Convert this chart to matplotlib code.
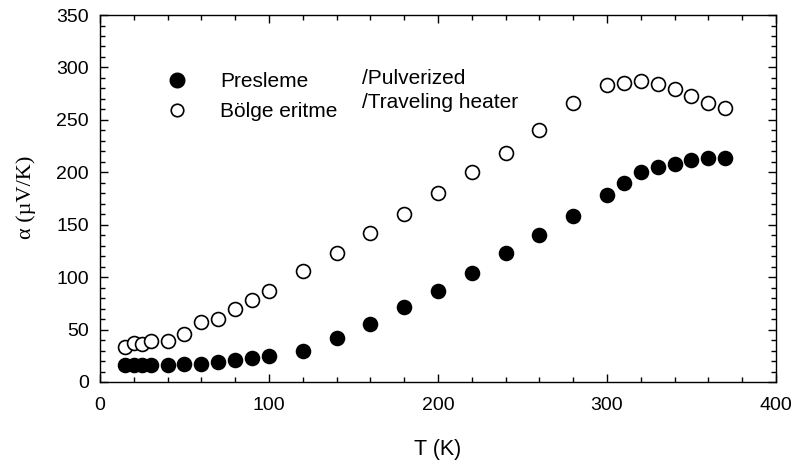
import matplotlib
matplotlib.use("Agg")
import matplotlib.pyplot as plt
from matplotlib.ticker import MultipleLocator

T = [15, 20, 25, 30, 40, 50, 60, 70, 80, 90, 100, 120, 140, 160, 180, 200,
     220, 240, 260, 280, 300, 310, 320, 330, 340, 350, 360, 370]
pulverized = [16, 16, 16, 16, 16, 17, 17, 19, 21, 23, 25, 30, 42, 55, 72, 87,
              104, 123, 140, 158, 178, 190, 200, 205, 208, 212, 214, 214]
traveling = [33, 37, 36, 39, 39, 46, 57, 60, 70, 78, 87, 106, 123, 142, 160, 180,
             200, 218, 240, 266, 283, 285, 287, 284, 279, 273, 266, 261]

plt.rcParams['font.family'] = ['Liberation Sans', 'DejaVu Sans']

fig = plt.figure(figsize=(7.95, 4.65), dpi=100)
ax = fig.add_axes([0.1258, 0.1785, 0.8502, 0.7892])

ax.plot(T, traveling, 'o', ms=10, mfc='white', mec='black', mew=1.2, zorder=3)
ax.plot(T, pulverized, 'o', ms=10, mfc='black', mec='black', mew=1.2, zorder=3)

ax.set_xlim(0, 400)
ax.set_ylim(0, 350)
ax.xaxis.set_major_locator(MultipleLocator(100))
ax.xaxis.set_minor_locator(MultipleLocator(20))
ax.yaxis.set_major_locator(MultipleLocator(50))
ax.yaxis.set_minor_locator(MultipleLocator(10))
ax.tick_params(which='both', direction='in', top=True, right=True, labelsize=14)
ax.tick_params(which='major', length=6, width=1)
ax.tick_params(which='minor', length=3.5, width=1)
ax.tick_params(axis='x', pad=11)
ax.tick_params(axis='y', pad=8)
for s in ax.spines.values():
    s.set_linewidth(1)

ax.set_xlabel('T (K)', fontsize=15.5, va='center')
ax.xaxis.set_label_coords(0.5, -0.183)
ax.set_ylabel('α (µV/K)', fontsize=16, family=['Liberation Serif', 'DejaVu Serif'], va='center')
ax.yaxis.set_label_coords(-0.1095, 0.504)

# legend
ax.plot([0.114], [0.822], 'o', ms=10.5, mfc='black', mec='black', transform=ax.transAxes)
ax.plot([0.114], [0.740], 'o', ms=9, mfc='white', mec='black', mew=1.2, transform=ax.transAxes)
ax.text(0.1775, 0.805, 'Presleme', transform=ax.transAxes, fontsize=15, va='baseline', ha='left')
ax.text(0.1775, 0.722, 'Bölge eritme', transform=ax.transAxes, fontsize=15, va='baseline', ha='left')
ax.text(0.3876, 0.812, '/Pulverized', transform=ax.transAxes, fontsize=15, va='baseline', ha='left')
ax.text(0.3876, 0.747, '/Traveling heater', transform=ax.transAxes, fontsize=15, va='baseline', ha='left')

fig.savefig('out.png', dpi=100)
